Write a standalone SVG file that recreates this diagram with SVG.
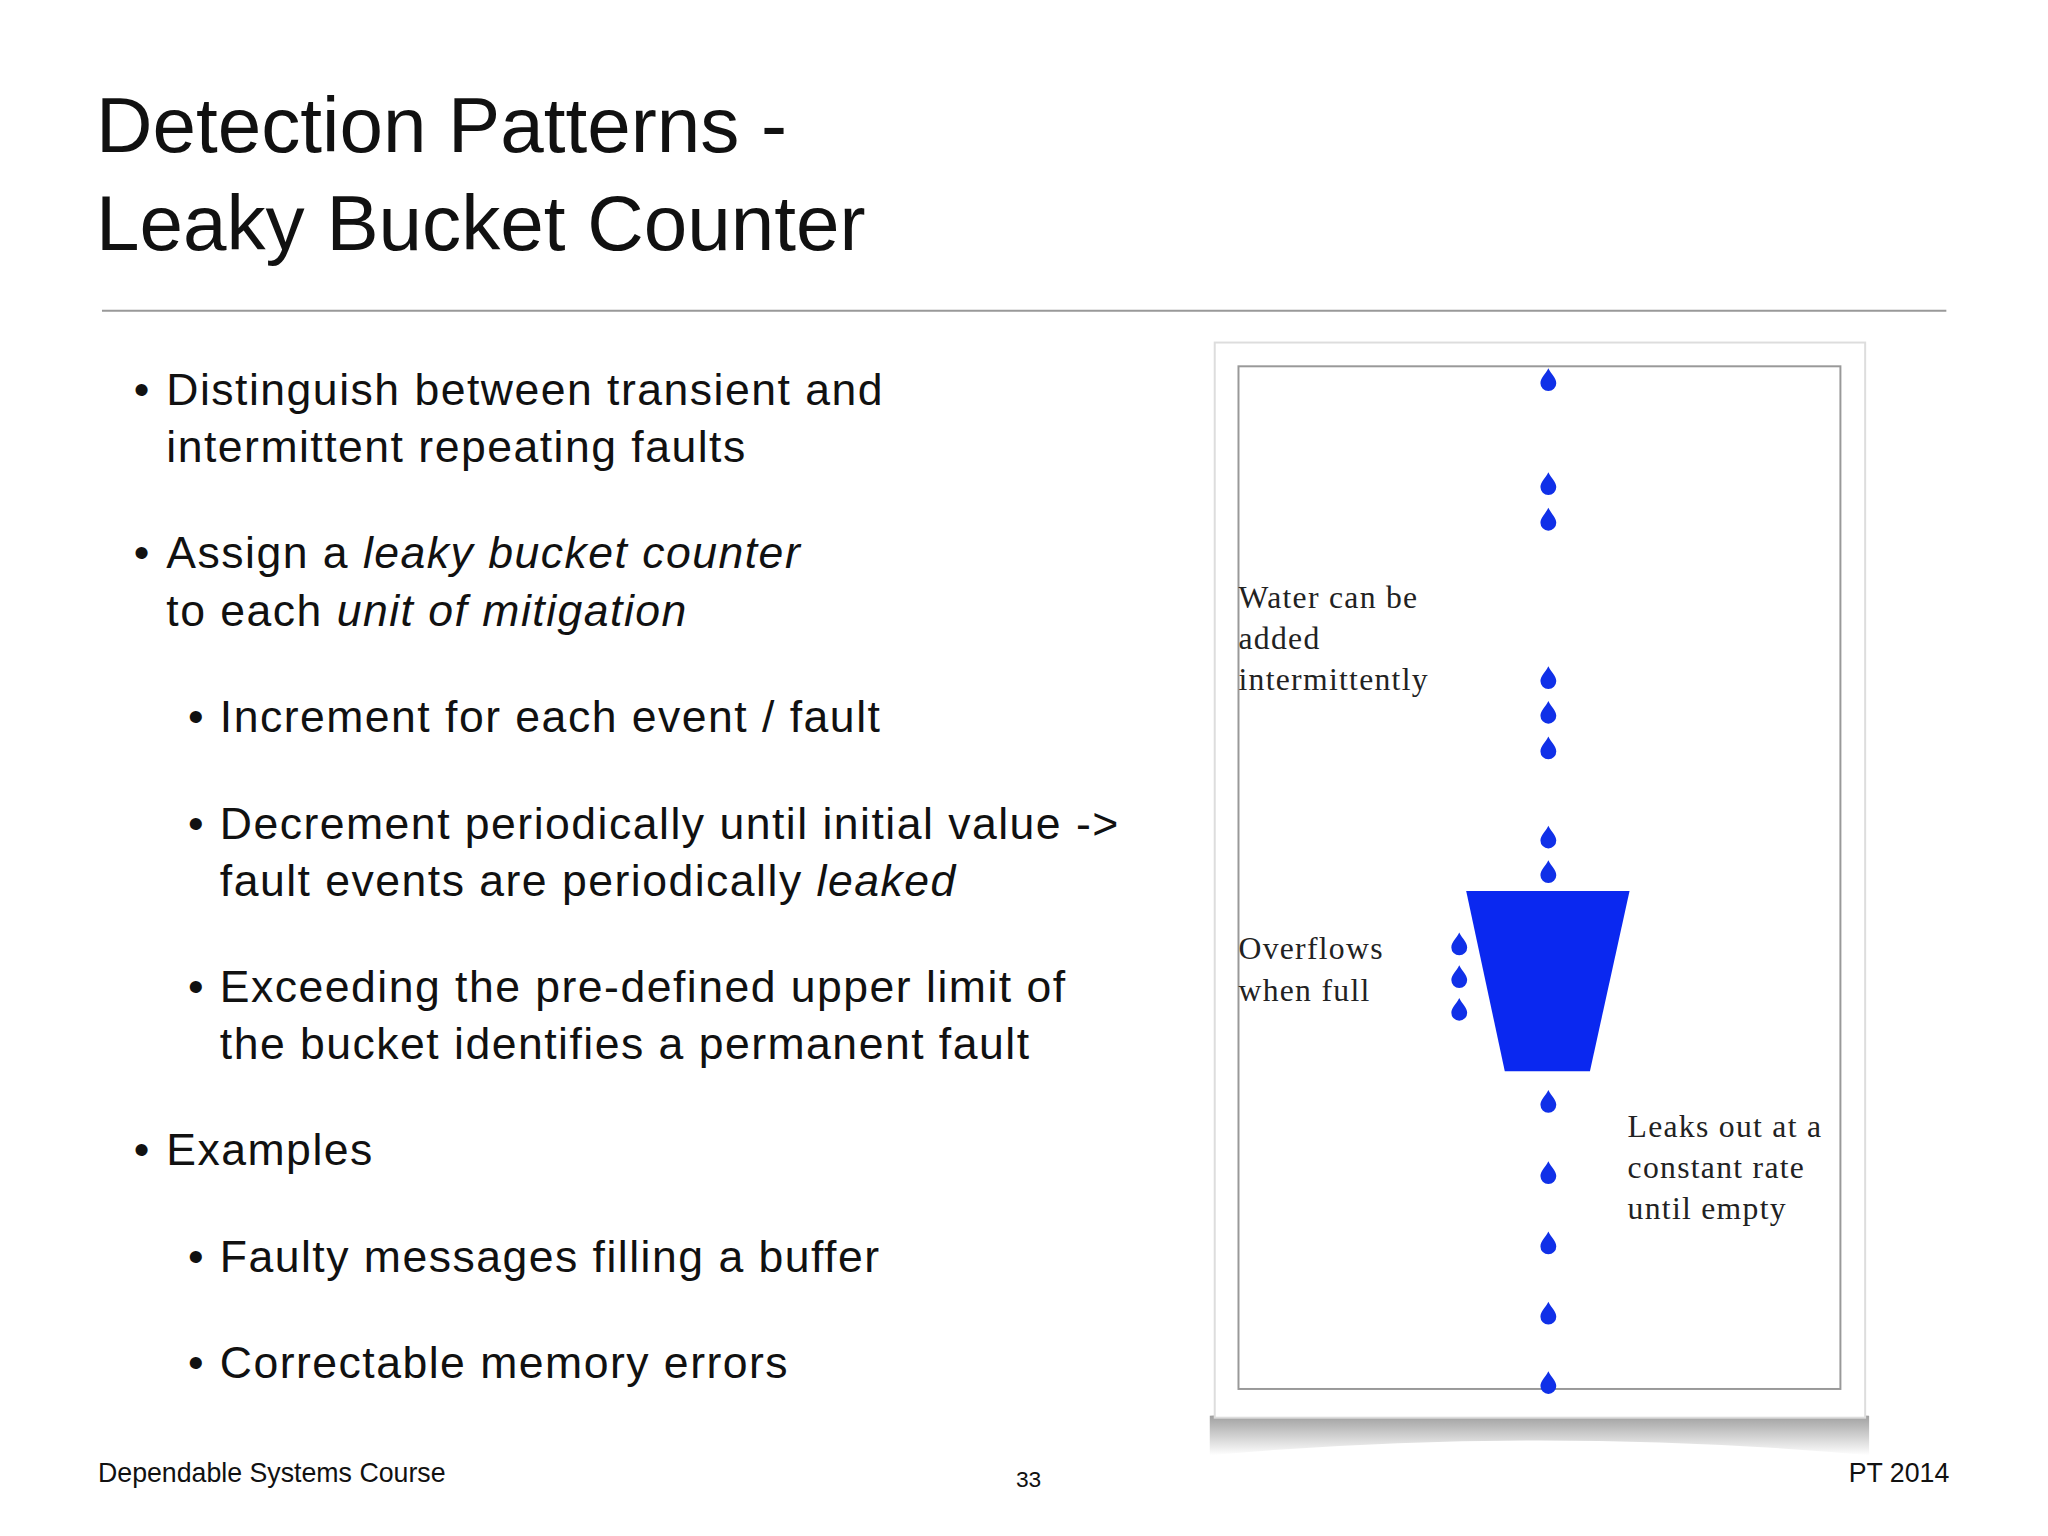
<svg xmlns="http://www.w3.org/2000/svg" xmlns:xlink="http://www.w3.org/1999/xlink" width="2048" height="1536" viewBox="0 0 2048 1536">
<style>
.t{font-family:"Helvetica","Liberation Sans",Arial,sans-serif;fill:#111}
.b{font-size:45px;letter-spacing:1.5px}
.s{font-family:"Liberation Serif","Times New Roman",serif;font-size:32px;fill:#222;letter-spacing:1.3px}
</style>
<defs>
<path id="d" d="M0,-11 C3,-5 8,-1 8,4 A8,8 0 0 1 -8,4 C-8,-1 -3,-5 0,-11 Z" fill="#1030e8"/>
<linearGradient id="sh" x1="0" y1="0" x2="0" y2="1"><stop offset="0" stop-color="#555" stop-opacity="0.7"/><stop offset="1" stop-color="#555" stop-opacity="0"/></linearGradient>
</defs>
<rect width="2048" height="1536" fill="#fff"/>
<g transform="scale(0.99)">
<g id="title" class="t" font-size="79">
<text x="97" y="154">Detection Patterns -</text>
<text x="97" y="253">Leaky Bucket Counter</text>
</g>
<line x1="103" y1="314" x2="1966" y2="314" stroke="#999" stroke-width="2"/>
<g id="bullets" class="t b">
<text x="135" y="409">•</text><text x="168" y="409">Distinguish between transient and</text>
<text x="168" y="467">intermittent repeating faults</text>
<text x="135" y="574">•</text><text x="168" y="574">Assign a <tspan font-style="italic">leaky bucket counter</tspan></text>
<text x="168" y="632">to each <tspan font-style="italic">unit of mitigation</tspan></text>
<text x="190" y="739">•</text><text x="222" y="739">Increment for each event / fault</text>
<text x="190" y="847">•</text><text x="222" y="847">Decrement periodically until initial value -&gt;</text>
<text x="222" y="905">fault events are periodically <tspan font-style="italic">leaked</tspan></text>
<text x="190" y="1012">•</text><text x="222" y="1012">Exceeding the pre-defined upper limit of</text>
<text x="222" y="1070">the bucket identifies a permanent fault</text>
<text x="135" y="1177">•</text><text x="168" y="1177">Examples</text>
<text x="190" y="1285">•</text><text x="222" y="1285">Faulty messages filling a buffer</text>
<text x="190" y="1392">•</text><text x="222" y="1392">Correctable memory errors</text>
</g>
<g id="figure">
<path d="M1222,1430 Q1555,1410 1888,1430 L1888,1470 Q1555,1440 1222,1470 Z" fill="url(#sh)"/>
<rect x="1227" y="346" width="657" height="1086" fill="#fff" stroke="#ddd" stroke-width="2"/>
<rect x="1251" y="370" width="608" height="1033" fill="none" stroke="#999" stroke-width="2"/>
<path d="M1481,900 L1646,900 L1606,1082 L1520,1082 Z" fill="#0a28f0"/>
<g>
<use xlink:href="#d" x="1564" y="383"/><use xlink:href="#d" x="1564" y="488"/><use xlink:href="#d" x="1564" y="524"/>
<use xlink:href="#d" x="1564" y="684"/><use xlink:href="#d" x="1564" y="719"/><use xlink:href="#d" x="1564" y="755"/>
<use xlink:href="#d" x="1564" y="845"/><use xlink:href="#d" x="1564" y="880"/>
<use xlink:href="#d" x="1564" y="1112"/><use xlink:href="#d" x="1564" y="1184"/><use xlink:href="#d" x="1564" y="1255"/>
<use xlink:href="#d" x="1564" y="1326"/><use xlink:href="#d" x="1564" y="1396"/>
<use xlink:href="#d" x="1474" y="953"/><use xlink:href="#d" x="1474" y="986"/><use xlink:href="#d" x="1474" y="1019"/>
</g>
<text class="s" x="1251" y="614">Water can be</text>
<text class="s" x="1251" y="656">added</text>
<text class="s" x="1251" y="697">intermittently</text>
<text class="s" x="1251" y="969">Overflows</text>
<text class="s" x="1251" y="1011">when full</text>
<text class="s" x="1644" y="1149">Leaks out at a</text>
<text class="s" x="1644" y="1190">constant rate</text>
<text class="s" x="1644" y="1231">until empty</text>
</g>
<g id="footer" class="t">
<text x="99" y="1497" font-size="27">Dependable Systems Course</text>
<text x="1039" y="1502" font-size="23" text-anchor="middle">33</text>
<text x="1969" y="1497" font-size="27" text-anchor="end">PT 2014</text>
</g>
</g>
</svg>
